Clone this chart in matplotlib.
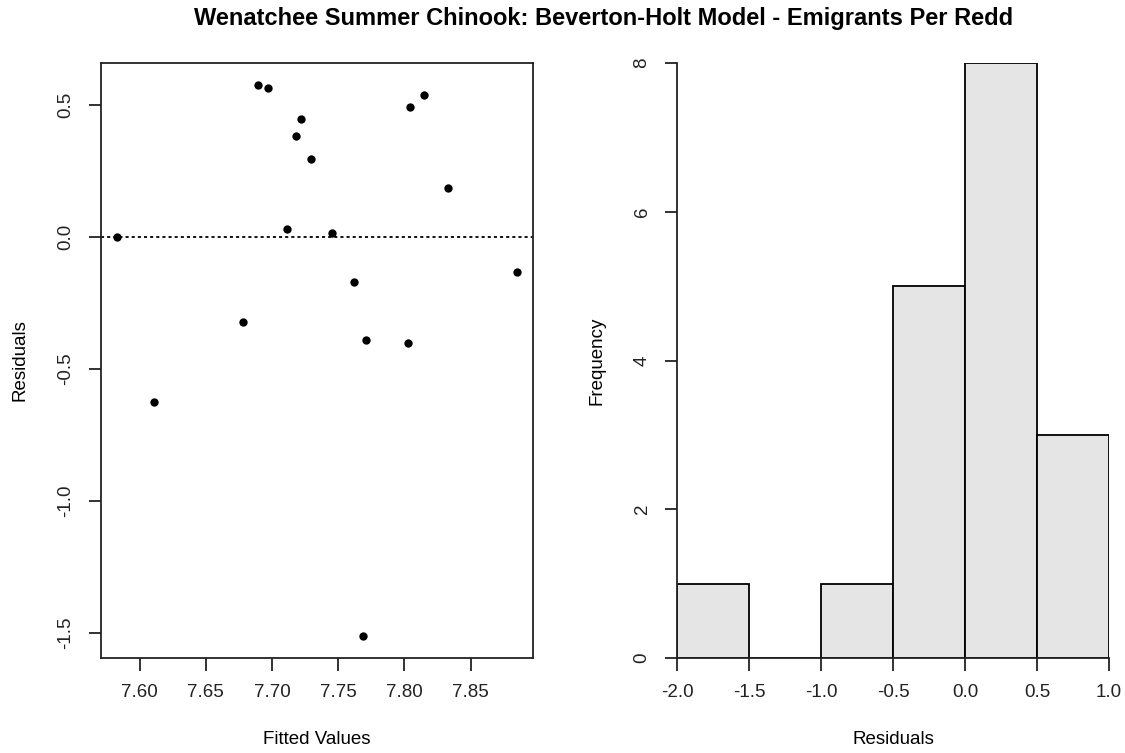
import matplotlib
matplotlib.use("Agg")
import matplotlib.pyplot as plt

plt.rcParams["font.family"] = ["Liberation Sans", "DejaVu Sans"]

# residual diagnostics
fitted = [7.5829, 7.6108, 7.6782, 7.6891, 7.6967, 7.7110, 7.7183, 7.7221, 7.7296,
          7.7450, 7.7616, 7.7689, 7.7711, 7.8029, 7.8039, 7.8147, 7.8331, 7.8850]
residuals = [0.002, -0.6265, -0.322, 0.577, 0.5655, 0.030, 0.3826, 0.449, 0.298,
             0.0174, -0.1705, -1.513, -0.389, -0.400, 0.4924, 0.540, 0.188, -0.134]
hist_edges = [-2.0, -1.5, -1.0, -0.5, 0.0, 0.5, 1.0]
scatter_xticks = [7.60, 7.65, 7.70, 7.75, 7.80, 7.85]
scatter_yticks = [0.5, 0.0, -0.5, -1.0, -1.5]
hist_yticks = [0, 2, 4, 6, 8]

W, H = 1125, 753
fig = plt.figure(figsize=(W / 100, H / 100), dpi=100, facecolor="white")


def box(l, r, t, b):
    return [l / W, (H - b) / H, (r - l) / W, (b - t) / H]


FS = 13.5
LINE = "#222222"

# ---- left: residuals vs fitted
ax1 = fig.add_axes(box(101, 533, 63, 658))
ax1.scatter(fitted, residuals, s=36, color="black", zorder=3, linewidths=0)
ax1.axhline(0, color="black", lw=1.3, linestyle=(0, (1.7, 1.7)), zorder=2)
rng_x = max(fitted) - min(fitted)
rng_y = max(residuals) - min(residuals)
ax1.set_xlim(min(fitted) - 0.04 * rng_x, max(fitted) + 0.04 * rng_x)
ax1.set_ylim(min(residuals) - 0.04 * rng_y, max(residuals) + 0.04 * rng_y)
ax1.set_xticks(scatter_xticks)
ax1.set_xticklabels([f"{v:.2f}" for v in scatter_xticks])
ax1.set_yticks(scatter_yticks)
ax1.set_yticklabels([f"{v:.1f}" for v in scatter_yticks], rotation=90, va="center")
ax1.set_xlabel("Fitted Values", fontsize=FS)
ax1.set_ylabel("Residuals", fontsize=FS)
ax1.xaxis.set_label_coords(0.5, -(740 - 658) / 595)
ax1.xaxis.label.set_va("center")
ax1.yaxis.set_label_coords((20 - 101) / 432, 0.5)
ax1.yaxis.label.set_va("center")
for sp in ax1.spines.values():
    sp.set_color(LINE)
    sp.set_linewidth(1.3)

# ---- right: histogram of residuals
ax2 = fig.add_axes(box(677, 1109, 63, 658))
ax2.hist(residuals, bins=hist_edges, color="#e5e5e5", edgecolor="black", linewidth=1.3)
ax2.set_xlim(hist_edges[0], hist_edges[-1])
ax2.set_ylim(0, 8)
ax2.set_xticks(hist_edges)
ax2.set_xticklabels([f"{v:.1f}" for v in hist_edges])
ax2.set_yticks(hist_yticks)
ax2.set_yticklabels([str(v) for v in hist_yticks], rotation=90, va="center")
ax2.set_xlabel("Residuals", fontsize=FS)
ax2.set_ylabel("Frequency", fontsize=FS)
ax2.xaxis.set_label_coords(0.5, -(740 - 658) / 595)
ax2.xaxis.label.set_va("center")
ax2.yaxis.set_label_coords((597 - 677) / 432, 0.5)
ax2.yaxis.label.set_va("center")
for sp in ("top", "right"):
    ax2.spines[sp].set_visible(False)
for sp in ("left", "bottom"):
    ax2.spines[sp].set_color(LINE)
    ax2.spines[sp].set_linewidth(1.3)

for ax in (ax1, ax2):
    ax.tick_params(axis="both", direction="out", length=9, width=1.3,
                   color=LINE, labelsize=FS, pad=10, labelcolor="#222222")
    ax.set_facecolor("white")

fig.text(604 / W, 1 - 18 / H,
         "Wenatchee Summer Chinook: Beverton-Holt Model - Emigrants Per Redd",
         ha="center", va="center", fontsize=17, fontweight="bold")

fig.savefig("out.png", dpi=100, facecolor="white")
